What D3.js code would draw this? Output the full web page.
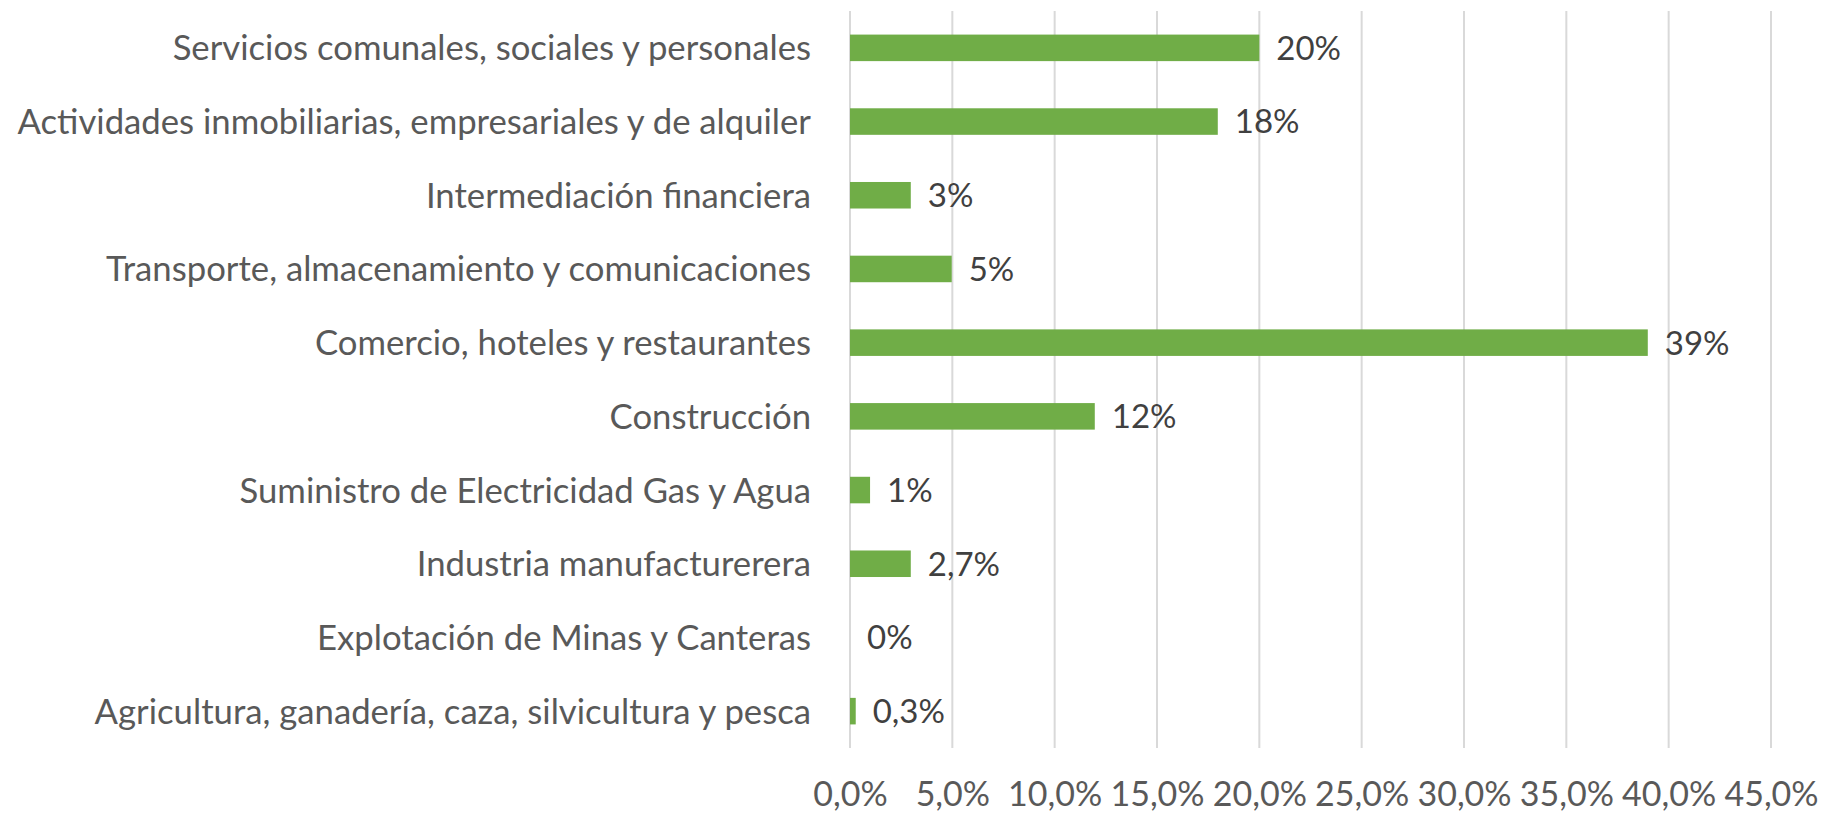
<!DOCTYPE html>
<html>
<head>
<meta charset="utf-8">
<script src="https://cdn.jsdelivr.net/npm/d3@7"></script>
<style>
  body { margin: 0; background: #fff; }
  text { font-family: Lato, "Noto Sans", sans-serif; }
</style>
</head>
<body>
<script>
// categories listed bottom to top
var categories = [
  "Agricultura, ganadería, caza, silvicultura y pesca",
  "Explotación de Minas y Canteras",
  "Industria manufacturerera",
  "Suministro de Electricidad Gas y Agua",
  "Construcción",
  "Comercio, hoteles y restaurantes",
  "Transporte, almacenamiento y comunicaciones",
  "Intermediación financiera",
  "Actividades inmobiliarias, empresariales y de alquiler",
  "Servicios comunales, sociales y personales"
];
var values = [0.28, 0, 2.97, 0.98, 11.96, 38.98, 4.97, 2.97, 17.97, 20];
var valueLabels = ["0,3%", "0%", "2,7%", "1%", "12%", "39%", "5%", "3%", "18%", "20%"];
var ticks = [0, 5, 10, 15, 20, 25, 30, 35, 40, 45];

var W = 1822, H = 813;
var margin = {top: 11, right: 51, bottom: 65, left: 850};
var width = W - margin.left - margin.right,
    height = H - margin.top - margin.bottom;

var svg = d3.select("body").append("svg")
    .attr("width", W)
    .attr("height", H);
var g = svg.append("g")
    .attr("transform", "translate(" + margin.left + "," + margin.top + ")");

var x = d3.scaleLinear().domain([0, 45]).range([0, width]);
var y = d3.scaleBand()
    .domain(categories.slice().reverse())
    .range([0, height])
    .paddingInner(0.64)
    .paddingOuter(0.32);

// vertical gridlines
g.append("g")
  .selectAll("line")
  .data(ticks)
  .enter().append("line")
    .attr("x1", function(d) { return x(d); })
    .attr("x2", function(d) { return x(d); })
    .attr("y1", 0)
    .attr("y2", height)
    .attr("stroke", "#d9d9d9")
    .attr("stroke-width", 2);

// x axis labels
var xAxis = d3.axisBottom(x)
    .tickValues(ticks)
    .tickSize(0)
    .tickPadding(0)
    .tickFormat(function(d) { return d.toFixed(1).replace(".", ",") + "%"; });
var ax = g.append("g")
    .attr("transform", "translate(0," + height + ")")
    .call(xAxis);
ax.select(".domain").remove();
ax.selectAll("text")
    .attr("dy", null)
    .attr("y", 58)
    .attr("fill", "#595959")
    .style("font-size", "34px");

// y axis labels
var yAxis = d3.axisLeft(y).tickSize(0).tickPadding(39);
var ay = g.append("g").call(yAxis);
ay.select(".domain").remove();
ay.selectAll("text")
    .attr("fill", "#595959")
    .attr("dy", "0.36em")
    .style("font-size", "34.7px");

// bars
g.selectAll(".bar")
  .data(categories)
  .enter().append("rect")
    .attr("class", "bar")
    .attr("x", 0)
    .attr("y", function(d) { return y(d); })
    .attr("width", function(d, i) { return x(values[i]); })
    .attr("height", y.bandwidth())
    .attr("fill", "#70ad47");

// value labels
g.selectAll(".val")
  .data(categories)
  .enter().append("text")
    .attr("class", "val")
    .attr("x", function(d, i) { return x(values[i]) + 17; })
    .attr("y", function(d) { return y(d) + y.bandwidth() / 2; })
    .attr("dy", "0.36em")
    .attr("fill", "#404040")
    .style("font-size", "33px")
    .text(function(d, i) { return valueLabels[i]; });
</script>
</body>
</html>
